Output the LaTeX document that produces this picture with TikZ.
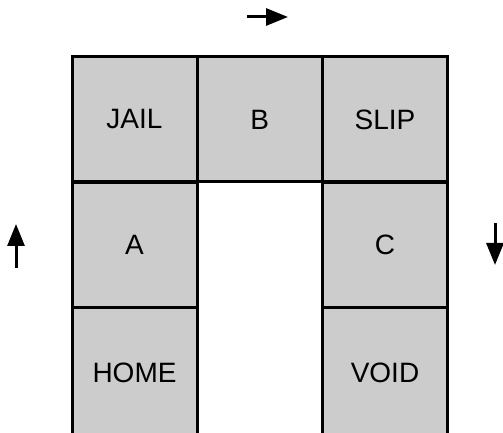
\documentclass[tikz,border=0pt]{standalone}
\usepackage{fontspec}
\setmainfont{Liberation Sans}
\usetikzlibrary{arrows.meta}
\definecolor{cellgray}{HTML}{CCCCCC}
\begin{document}
\begin{tikzpicture}[x=1pt,y=1pt,
  cell/.style={draw=black, fill=cellgray, line width=3pt, minimum width=125pt, minimum height=125pt, inner sep=0pt, font=\fontsize{28}{33}\selectfont},
  lastcell/.style={cell, minimum height=130pt},
  dirarrow/.style={line width=3pt, -{Triangle[length=22pt,width=17pt]}}]
\useasboundingbox (0,0) rectangle (503,433);
\clip (0,0) rectangle (503,433);
\node[cell] (jail) at (134.5,313.5) {JAIL};
\node[cell] (b) at (259.75,313.5) {B};
\node[cell] (slip) at (385,313.5) {SLIP};
\node[cell] (a) at (134.5,188.25) {A};
\node[cell] (c) at (385,188.25) {C};
\node[lastcell] (home) at (134.5,60.5) {HOME};
\node[lastcell] (void) at (385,60.5) {VOID};
\coordinate (t1) at (247,416);
\coordinate (t2) at (288,416);
\coordinate (l1) at (16,165);
\coordinate (l2) at (16,209);
\coordinate (r1) at (495,210);
\coordinate (r2) at (495,168);
\draw[dirarrow] (t1) -- (t2);
\draw[dirarrow] (l1) -- (l2);
\draw[dirarrow] (r1) -- (r2);
\end{tikzpicture}
\end{document}
